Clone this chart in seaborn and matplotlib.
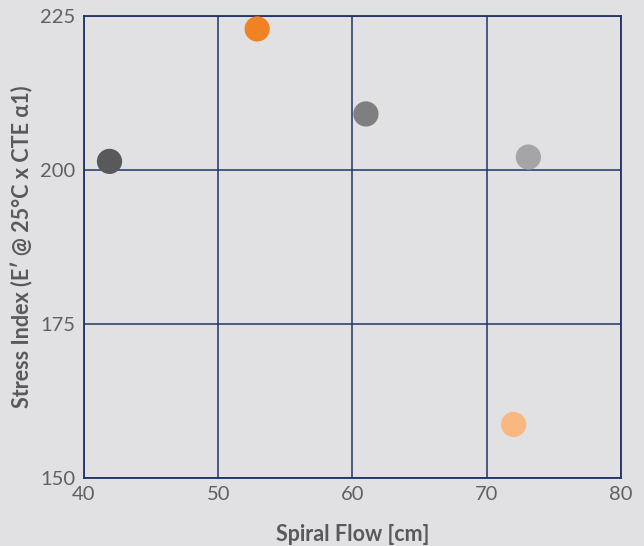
import matplotlib
matplotlib.use("Agg")
import matplotlib.pyplot as plt
import seaborn as sns
import pandas as pd

# values
spiral_flow = [41.9, 52.9, 61.0, 73.1, 72.0]
stress_index = [201.4, 222.9, 209.1, 202.1, 158.7]
sample = ["A", "B", "C", "D", "E"]
colors = ["#58595b", "#f08224", "#7f7f80", "#a5a4a6", "#f8b880"]

x_ticks = [40, 50, 60, 70, 80]
y_ticks = [150, 175, 200, 225]

bg = "#e1e1e3"
navy = "#1f3564"
txt = "#58595b"

sns.set_theme(style="white")
plt.rcParams["font.family"] = ["Lato", "DejaVu Sans"]

df = pd.DataFrame({"flow": spiral_flow, "stress": stress_index, "sample": sample})

fig = plt.figure(figsize=(6.44, 5.46), dpi=100, facecolor=bg)
ax = fig.add_axes([0.1304, 0.1245, 0.8339, 0.8462])
ax.set_facecolor(bg)

sns.scatterplot(data=df, x="flow", y="stress", hue="sample",
                palette=colors, s=330, linewidth=0, legend=False, ax=ax,
                zorder=3, clip_on=False)

ax.set_xlim(40, 80)
ax.set_ylim(150, 225)
ax.set_xticks(x_ticks)
ax.set_yticks(y_ticks)
ax.grid(True, color=navy, linewidth=1.1)
ax.set_axisbelow(True)
for s in ax.spines.values():
    s.set_color(navy)
    s.set_linewidth(1.3)

ax.tick_params(axis="both", colors="#606062", labelsize=14.5, length=0, pad=6)

ax.set_xlabel("Spiral Flow [cm]", fontsize=15.5, fontweight="bold", color=txt, labelpad=15)
ax.set_ylabel("Stress Index (E\u2032 @ 25\u00b0C x CTE \u03b11)", fontsize=15.5,
              fontweight="bold", color=txt, labelpad=5)

fig.savefig("out.png", dpi=100, facecolor=bg)
